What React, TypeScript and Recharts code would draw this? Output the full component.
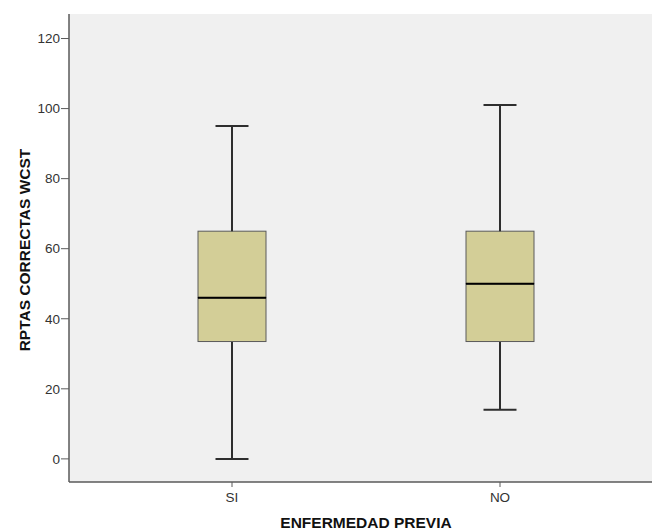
import { Bar, CartesianGrid, ComposedChart, Label, XAxis, YAxis } from "recharts"

const categories = ["SI", "NO"]
const minimums = [0, 14]
const lowerQuartiles = [33.5, 33.5]
const medians = [46, 50]
const upperQuartiles = [65, 65]
const maximums = [95, 101]
const yTicks = [0, 20, 40, 60, 80, 100, 120]

const data = categories.map((name, i) => ({
  name,
  base: minimums[i],
  lowWhisker: lowerQuartiles[i] - minimums[i],
  lowBox: medians[i] - lowerQuartiles[i],
  highBox: upperQuartiles[i] - medians[i],
  highWhisker: maximums[i] - upperQuartiles[i],
}))

const font = "'Liberation Sans', Arial, sans-serif"
const frame = "#5a5a5a"
const whisker = "#2e2e2e"
const boxFill = "#d3ce97"
const capHalf = 16.5

function LowWhisker(props: any) {
  const { x, y, width, height } = props
  const cx = x + width / 2
  const bottom = y + height
  return (
    <g>
      <line x1={cx} x2={cx} y1={y} y2={bottom} stroke={whisker} strokeWidth={2} />
      <line x1={cx - capHalf} x2={cx + capHalf} y1={bottom} y2={bottom} stroke={whisker} strokeWidth={2} />
    </g>
  )
}

function HighWhisker(props: any) {
  const { x, y, width, height } = props
  const cx = x + width / 2
  return (
    <g>
      <line x1={cx} x2={cx} y1={y} y2={y + height} stroke={whisker} strokeWidth={2} />
      <line x1={cx - capHalf} x2={cx + capHalf} y1={y} y2={y} stroke={whisker} strokeWidth={2} />
    </g>
  )
}

function LowBox(props: any) {
  const { x, y, width, height } = props
  return <rect x={x} y={y} width={width} height={height} fill={boxFill} stroke={frame} strokeWidth={1} />
}

function HighBox(props: any) {
  const { x, y, width, height } = props
  return (
    <g>
      <rect x={x} y={y} width={width} height={height} fill={boxFill} stroke={frame} strokeWidth={1} />
      <line x1={x} x2={x + width} y1={y + height} y2={y + height} stroke="#000" strokeWidth={2} />
    </g>
  )
}

const tickStyle = { fontSize: 13.5, fill: "#333", fontFamily: font }

export default function App() {
  return (
    <div style={{ position: "absolute", left: 0, top: 0, background: "#fff" }}>
      <ComposedChart
        width={652}
        height={530}
        data={data}
        margin={{ top: 14, right: 0, bottom: 18, left: 0 }}
      >
        <CartesianGrid fill="#f0f0f0" horizontal={false} vertical={false} />
        <XAxis
          dataKey="name"
          height={30}
          padding={{ left: 29, right: 18 }}
          tick={tickStyle}
          tickSize={5}
          tickMargin={5}
          axisLine={{ stroke: frame, strokeWidth: 1.5 }}
          tickLine={{ stroke: frame }}
        >
          <Label
            content={() => (
              <text x={366} y={528} textAnchor="middle" fontFamily={font} fontSize={15.5} fontWeight="bold" fill="#111">
                ENFERMEDAD PREVIA
              </text>
            )}
          />
        </XAxis>
        <XAxis
          xAxisId="top"
          dataKey="name"
          orientation="top"
          height={0}
          tick={false}
          tickLine={false}
          axisLine={{ stroke: frame, strokeWidth: 1.5 }}
        />
        <YAxis
          width={69}
          type="number"
          domain={[-6.6, 127]}
          ticks={yTicks}
          allowDataOverflow
          tick={tickStyle}
          tickSize={8}
          tickMargin={1}
          axisLine={{ stroke: frame, strokeWidth: 1.5 }}
          tickLine={{ stroke: frame }}
        >
          <Label
            content={() => (
              <text
                x={30}
                y={250}
                transform="rotate(-90 30 250)"
                textAnchor="middle"
                fontFamily={font}
                fontSize={15.5}
                fontWeight="bold"
                fill="#111"
              >
                RPTAS CORRECTAS WCST
              </text>
            )}
          />
        </YAxis>
        <Bar dataKey="base" stackId="box" fill="none" barSize={68} isAnimationActive={false} />
        <Bar dataKey="lowWhisker" stackId="box" barSize={68} shape={LowWhisker} isAnimationActive={false} />
        <Bar dataKey="lowBox" stackId="box" barSize={68} shape={LowBox} isAnimationActive={false} />
        <Bar dataKey="highBox" stackId="box" barSize={68} shape={HighBox} isAnimationActive={false} />
        <Bar dataKey="highWhisker" stackId="box" barSize={68} shape={HighWhisker} isAnimationActive={false} />
      </ComposedChart>
    </div>
  )
}
